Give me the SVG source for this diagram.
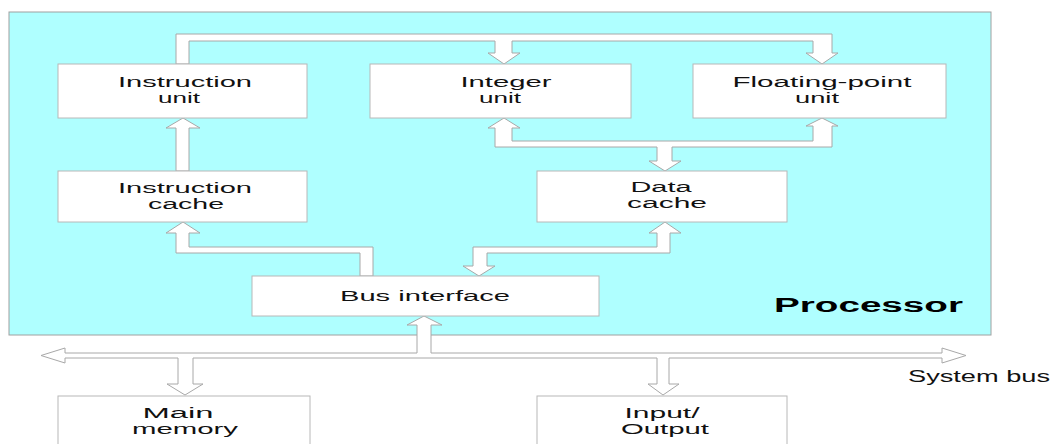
<svg xmlns="http://www.w3.org/2000/svg" width="1055" height="444" viewBox="0 0 1055 444">
<style>
.box{fill:#ffffff;stroke:#b8b8b8;stroke-width:1}
.conn{fill:#ffffff;stroke:#a8a8a8;stroke-width:1;stroke-linejoin:miter}
.t{font-family:"Liberation Sans",Arial,sans-serif;font-size:14px;fill:#111111;text-anchor:middle}
.big{font-family:"Liberation Sans",Arial,sans-serif;font-size:20px;font-weight:bold;fill:#000000}
</style>
<rect width="1055" height="444" fill="#ffffff"/>
<g id="processor">
<rect x="9" y="12" width="982" height="323" fill="#afffff" stroke="#a0a0a0" stroke-width="1"/>
<text class="big" x="774" y="312" textLength="189" lengthAdjust="spacingAndGlyphs">Processor</text>
</g>
<g id="connectors">
<polygon class="conn" points="176,64 176,34 832,34 832,53 838,53 822,64 806,53 813,53 813,41 512,41 512,53 520,53 504,64 488,53 495,53 495,41 189,41 189,64"/>
<polygon class="conn" points="504,118 520,128 512,128 512,141 813,141 813,126 806,126 822,118 838,126 832,126 832,147 672,147 672,161 681,161 665,171 649,161 657,161 657,147 495,147 495,128 488,128"/>
<polygon class="conn" points="176,171 176,128 166,128 183,118 200,128 189,128 189,171"/>
<polygon class="conn" points="373,276 373,247 189,247 189,233 200,233 183,222 166,233 176,233 176,253 360,253 360,276"/>
<polygon class="conn" points="479,276 495,266 487,266 487,253 670,253 670,233 681,233 665,222 649,233 657,233 657,247 473,247 473,266 463,266"/>
<polygon class="conn" points="41,355.5 65,348 65,353 417,353 417,325 407,325 424,316 442,325 431,325 431,353 942,353 942,348 966,355.5 942,363 942,358 669,358 669,384 679,384 663,395 648,384 657,384 657,358 193,358 193,384 203,384 185,395 167,384 178,384 178,358 65,358 65,363"/>
</g>
<g id="instruction-unit">
<rect class="box" x="58" y="64" width="249" height="54"/>
<text class="t" x="185" y="87" textLength="134" lengthAdjust="spacingAndGlyphs">Instruction</text>
<text class="t" x="179" y="103" textLength="42" lengthAdjust="spacingAndGlyphs">unit</text>
</g>
<g id="integer-unit">
<rect class="box" x="370" y="64" width="261" height="54"/>
<text class="t" x="506" y="87" textLength="91" lengthAdjust="spacingAndGlyphs">Integer</text>
<text class="t" x="500" y="103" textLength="42" lengthAdjust="spacingAndGlyphs">unit</text>
</g>
<g id="fp-unit">
<rect class="box" x="693" y="64" width="253" height="54"/>
<text class="t" x="822" y="87" textLength="179" lengthAdjust="spacingAndGlyphs">Floating-point</text>
<text class="t" x="817" y="103" textLength="44" lengthAdjust="spacingAndGlyphs">unit</text>
</g>
<g id="instruction-cache">
<rect class="box" x="58" y="171" width="249" height="51"/>
<text class="t" x="185" y="193" textLength="134" lengthAdjust="spacingAndGlyphs">Instruction</text>
<text class="t" x="186" y="209" textLength="76" lengthAdjust="spacingAndGlyphs">cache</text>
</g>
<g id="data-cache">
<rect class="box" x="537" y="171" width="250" height="51"/>
<text class="t" x="661" y="192" textLength="61" lengthAdjust="spacingAndGlyphs">Data</text>
<text class="t" x="667" y="208" textLength="80" lengthAdjust="spacingAndGlyphs">cache</text>
</g>
<g id="bus-interface">
<rect class="box" x="252" y="276" width="347" height="40"/>
<text class="t" x="425" y="301" textLength="170" lengthAdjust="spacingAndGlyphs">Bus interface</text>
</g>
<g id="main-memory">
<rect class="box" x="58" y="396" width="252" height="60"/>
<text class="t" x="178" y="418" textLength="71" lengthAdjust="spacingAndGlyphs">Main</text>
<text class="t" x="185" y="434" textLength="106" lengthAdjust="spacingAndGlyphs">memory</text>
</g>
<g id="input-output">
<rect class="box" x="537" y="396" width="250" height="60"/>
<text class="t" x="662" y="418" textLength="75" lengthAdjust="spacingAndGlyphs">Input/</text>
<text class="t" x="665" y="434" textLength="88" lengthAdjust="spacingAndGlyphs">Output</text>
</g>
<g id="system-bus-label">
<text class="t" style="text-anchor:start;font-size:16px" x="908" y="382" textLength="142" lengthAdjust="spacingAndGlyphs">System bus</text>
</g>
</svg>
